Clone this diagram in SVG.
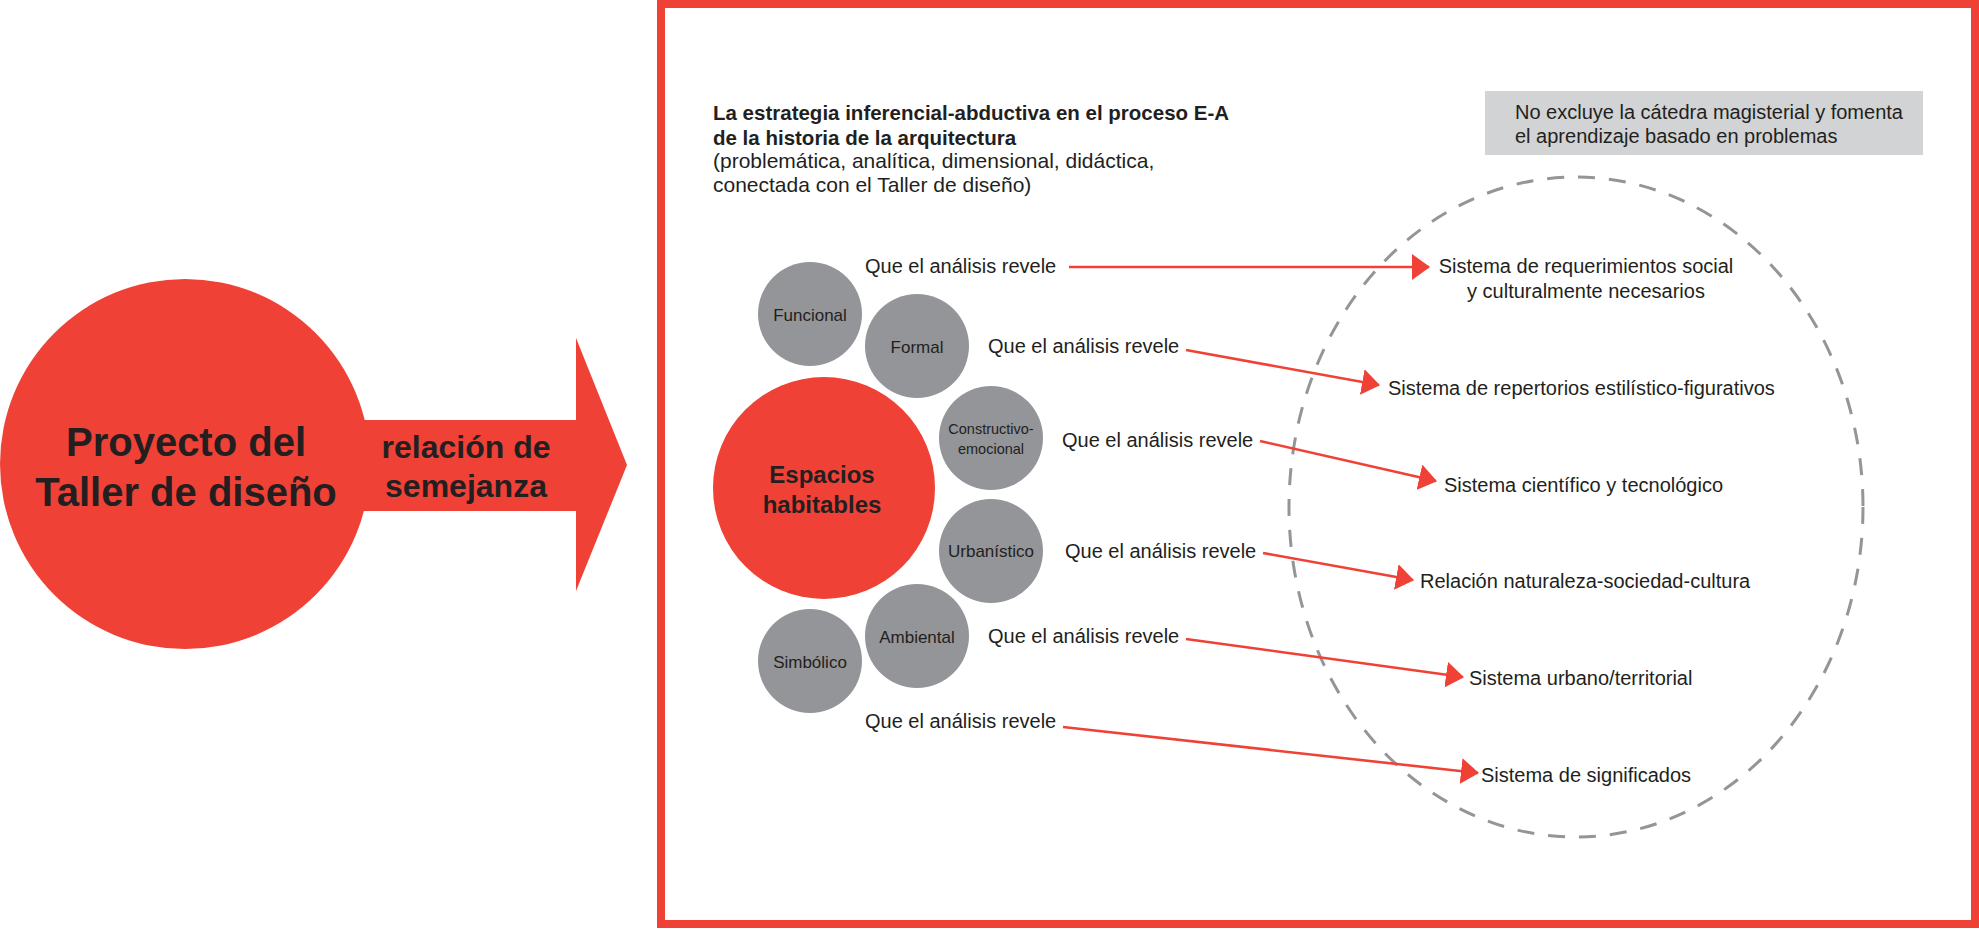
<svg xmlns="http://www.w3.org/2000/svg" width="1979" height="930" viewBox="0 0 1979 930">
<defs>
<style>
.t{font-family:"Liberation Sans",Arial,sans-serif;fill:#231f20;font-size:20px}
.b{font-weight:bold}
.c{text-anchor:middle}
.sm{font-size:17px}
.red{fill:#ef4136}
.gray{fill:#939598}
.conn{stroke:#ef4136;stroke-width:2.6;fill:none;marker-end:url(#ah)}
</style>
<marker id="ah" viewBox="0 0 18 26" markerWidth="18" markerHeight="26" refX="17" refY="13" orient="auto" markerUnits="userSpaceOnUse">
<path d="M0,0 L18,13 L0,26 z" fill="#ef4136"/>
</marker>
</defs>
<rect width="1979" height="930" fill="#ffffff"/>
<rect id="frame" x="661" y="4" width="1314" height="920" fill="none" stroke="#ef4136" stroke-width="8"/>

<g id="relacion">
<polygon class="red" points="300,420 576,420 576,338 627,465 576,591 576,511 300,511"/>
<text class="t b c" x="466" y="458" style="font-size:32px">relación de</text>
<text class="t b c" x="466" y="497" style="font-size:32px">semejanza</text>
</g>
<g id="proyecto">
<circle class="red" cx="185" cy="464" r="185"/>
<text class="t b c" x="186" y="456" style="font-size:40px">Proyecto del</text>
<text class="t b c" x="186" y="506" style="font-size:40px">Taller de diseño</text>
</g>

<g id="titulo">
<text class="t b" x="713" y="120" style="font-size:20.5px">La estrategia inferencial-abductiva en el proceso E-A</text>
<text class="t b" x="713" y="145" style="font-size:20.5px">de la historia de la arquitectura</text>
<text class="t" x="713" y="168" style="font-size:21px">(problemática, analítica, dimensional, didáctica,</text>
<text class="t" x="713" y="192" style="font-size:21px">conectada con el Taller de diseño)</text>
</g>

<g id="nota">
<rect x="1485" y="91" width="438" height="64" fill="#d1d3d4"/>
<text class="t" x="1515" y="119">No excluye la cátedra magisterial y fomenta</text>
<text class="t" x="1515" y="143">el aprendizaje basado en problemas</text>
</g>

<g id="sistemas">
<ellipse cx="1576" cy="507" rx="287" ry="330" fill="none" stroke="#939598" stroke-width="3" stroke-dasharray="17 14"/>
</g>

<g id="espacios">
<circle class="red" cx="824" cy="488" r="111"/>
<text class="t b c" x="822" y="483" style="font-size:24px">Espacios</text>
<text class="t b c" x="822" y="513" style="font-size:24px">habitables</text>
</g>
<g id="funcional">
<circle class="gray" cx="810" cy="314" r="52"/>
<text class="t c sm" x="810" y="321">Funcional</text>
</g>
<g id="formal">
<circle class="gray" cx="917" cy="346" r="52"/>
<text class="t c sm" x="917" y="353">Formal</text>
</g>
<g id="constructivo">
<circle class="gray" cx="991" cy="438" r="52"/>
<text class="t c" x="991" y="434" style="font-size:14.5px">Constructivo-</text>
<text class="t c" x="991" y="454" style="font-size:14.5px">emocional</text>
</g>
<g id="urbanistico">
<circle class="gray" cx="991" cy="551" r="52"/>
<text class="t c sm" x="991" y="557">Urbanístico</text>
</g>
<g id="ambiental">
<circle class="gray" cx="917" cy="636" r="52"/>
<text class="t c sm" x="917" y="643">Ambiental</text>
</g>
<g id="simbolico">
<circle class="gray" cx="810" cy="661" r="52"/>
<text class="t c sm" x="810" y="668">Simbólico</text>
</g>

<g id="labels">
<text class="t" x="865" y="273">Que el análisis revele</text>
<text class="t" x="988" y="353">Que el análisis revele</text>
<text class="t" x="1062" y="447">Que el análisis revele</text>
<text class="t" x="1065" y="558">Que el análisis revele</text>
<text class="t" x="988" y="643">Que el análisis revele</text>
<text class="t" x="865" y="728">Que el análisis revele</text>
</g>

<g id="connectors">
<line class="conn" x1="1069" y1="267" x2="1429" y2="267"/>
<line class="conn" x1="1186" y1="350" x2="1379" y2="385"/>
<line class="conn" x1="1260" y1="441" x2="1436" y2="481"/>
<line class="conn" x1="1263" y1="553" x2="1413" y2="580"/>
<line class="conn" x1="1186" y1="639" x2="1463" y2="677"/>
<line class="conn" x1="1063" y1="727" x2="1478" y2="773"/>
</g>

<g id="resultados">
<text class="t c" x="1586" y="273">Sistema de requerimientos social</text>
<text class="t c" x="1586" y="298">y culturalmente necesarios</text>
<text class="t" x="1388" y="395">Sistema de repertorios estilístico-figurativos</text>
<text class="t" x="1444" y="492">Sistema científico y tecnológico</text>
<text class="t" x="1420" y="588">Relación naturaleza-sociedad-cultura</text>
<text class="t" x="1469" y="685">Sistema urbano/territorial</text>
<text class="t" x="1481" y="782">Sistema de significados</text>
</g>
</svg>
